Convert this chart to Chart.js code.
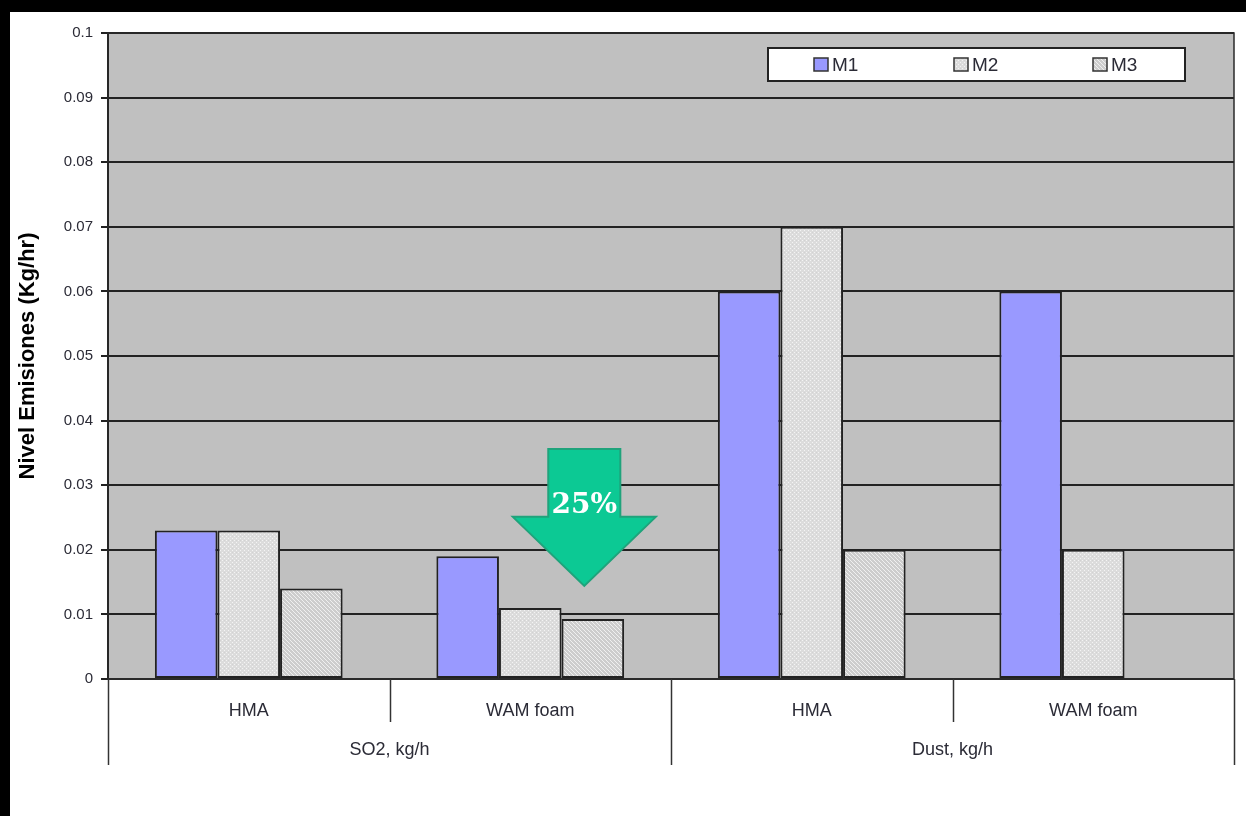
<!DOCTYPE html>
<html>
<head>
<meta charset="utf-8">
<script src="https://cdn.jsdelivr.net/npm/chart.js@4/dist/chart.umd.min.js"></script>
<style>
  html, body { margin: 0; padding: 0; background: #fff; }
  #frame {
    width: 1236px; height: 804px;
    border-top: 12px solid #000; border-left: 10px solid #000;
    background: #fff;
  }
  #chart { display: block; }
</style>
</head>
<body>
<div id="frame"><canvas id="chart" width="1236" height="804"></canvas></div>
<script>
// Emission levels per paving mix, measured in three campaigns
const categories = ['HMA', 'WAM foam', 'HMA', 'WAM foam'];
const groupLabels = ['SO2, kg/h', 'Dust, kg/h'];
const seriesNames = ['M1', 'M2', 'M3'];
const m1Values = [0.023, 0.019, 0.06, 0.06];
const m2Values = [0.023, 0.011, 0.07, 0.02];
const m3Values = [0.014, 0.0093, 0.02, null];
const yMax = 0.1;
const yStep = 0.01;
const reductionText = '25%';

// Fill textures for the grey series
function makePattern(kind) {
  const c = document.createElement('canvas');
  c.width = 4; c.height = 4;
  const g = c.getContext('2d');
  if (kind === 'dots') {
    g.fillStyle = '#dcdcdc'; g.fillRect(0, 0, 4, 4);
    g.fillStyle = '#f4f4f4';
    g.fillRect(0, 0, 1, 1); g.fillRect(2, 2, 1, 1);
    g.fillStyle = '#d2d2d2';
    g.fillRect(2, 0, 1, 1);
  } else {
    g.fillStyle = '#cdcdcd'; g.fillRect(0, 0, 4, 4);
    g.fillStyle = '#f0f0f0';
    for (let i = 0; i < 4; i++) g.fillRect(i, i, 1, 1);
  }
  return g.createPattern(c, 'repeat');
}
const m1Fill = '#9999ff';
const m2Fill = makePattern('dots');
const m3Fill = makePattern('hatch');
const seriesFills = [m1Fill, m2Fill, m3Fill];

const FONT = '"Liberation Sans", Arial, sans-serif';
const TEXT = '#2b2b36';

// Grey plot background, frame, two-level category axis, legend and arrow
const decorations = {
  id: 'decorations',
  beforeDraw(chart) {
    const { ctx, chartArea: a } = chart;
    ctx.save();
    ctx.fillStyle = '#c0c0c0';
    ctx.fillRect(a.left, a.top, a.right - a.left, a.bottom - a.top);
    ctx.restore();
  },
  afterDraw(chart) {
    const { ctx, chartArea: a } = chart;
    const xs = chart.scales.x, ys = chart.scales.y;
    const catW = (a.right - a.left) / categories.length;
    ctx.save();

    // plot frame
    ctx.strokeStyle = '#2a2a2a';
    ctx.lineWidth = 1.5;
    ctx.strokeRect(a.left, a.top, a.right - a.left, a.bottom - a.top);

    // base line
    ctx.lineWidth = 2;
    ctx.beginPath(); ctx.moveTo(a.left, a.bottom); ctx.lineTo(a.right, a.bottom); ctx.stroke();

    // category separators (short) and group separators (long)
    ctx.strokeStyle = '#333';
    ctx.lineWidth = 1.5;
    for (let i = 0; i <= categories.length; i++) {
      const x = Math.round(a.left + i * catW) + 0.5;
      const long = (i % 2 === 0);
      ctx.beginPath();
      ctx.moveTo(x, a.bottom);
      ctx.lineTo(x, a.bottom + (long ? 86 : 43));
      ctx.stroke();
    }

    // category and group labels
    ctx.fillStyle = TEXT;
    ctx.font = '18px ' + FONT;
    ctx.textAlign = 'center';
    ctx.textBaseline = 'middle';
    categories.forEach((c, i) => {
      ctx.fillText(c, xs.getPixelForValue(i), a.bottom + 32);
    });
    groupLabels.forEach((g, gi) => {
      ctx.fillText(g, a.left + (gi * 2 + 1) * catW, a.bottom + 71);
    });

    // legend box
    const lx = a.left + 660, ly = a.top + 15, lw = 417, lh = 33;
    ctx.fillStyle = '#fff';
    ctx.fillRect(lx, ly, lw, lh);
    ctx.strokeStyle = '#222';
    ctx.lineWidth = 2;
    ctx.strokeRect(lx, ly, lw, lh);
    const itemX = [46, 186, 325];
    ctx.font = '19px ' + FONT;
    ctx.textAlign = 'left';
    seriesNames.forEach((n, i) => {
      const sx = lx + itemX[i], sy = ly + 10;
      ctx.fillStyle = seriesFills[i];
      ctx.fillRect(sx, sy, 14, 13);
      ctx.strokeStyle = '#333';
      ctx.lineWidth = 1.5;
      ctx.strokeRect(sx, sy, 14, 13);
      ctx.fillStyle = TEXT;
      ctx.fillText(n, sx + 18, ly + lh / 2 + 1);
    });

    // reduction arrow over the WAM foam SO2 bars
    const cx = xs.getPixelForValue(1) + 0.192 * catW;
    const shaftHalf = 0.128 * catW, headHalf = 0.254 * catW;
    const yTop = ys.getPixelForValue(0.0356);
    const yNeck = ys.getPixelForValue(0.0251);
    const yTip = ys.getPixelForValue(0.0144);
    ctx.beginPath();
    ctx.moveTo(cx - shaftHalf, yTop);
    ctx.lineTo(cx + shaftHalf, yTop);
    ctx.lineTo(cx + shaftHalf, yNeck);
    ctx.lineTo(cx + headHalf, yNeck);
    ctx.lineTo(cx, yTip);
    ctx.lineTo(cx - headHalf, yNeck);
    ctx.lineTo(cx - shaftHalf, yNeck);
    ctx.closePath();
    ctx.fillStyle = '#0cc994';
    ctx.fill();
    ctx.strokeStyle = '#1fa37b';
    ctx.lineWidth = 2;
    ctx.stroke();
    ctx.fillStyle = '#fff';
    ctx.font = 'bold 28px "DejaVu Serif", "Liberation Serif", serif';
    ctx.textAlign = 'center';
    ctx.textBaseline = 'middle';
    ctx.fillText(reductionText, cx, ys.getPixelForValue(0.0268));

    ctx.restore();
  }
};

new Chart(document.getElementById('chart'), {
  type: 'bar',
  data: {
    labels: categories,
    datasets: [
      { label: seriesNames[0], data: m1Values, backgroundColor: m1Fill },
      { label: seriesNames[1], data: m2Values, backgroundColor: m2Fill },
      { label: seriesNames[2], data: m3Values, backgroundColor: m3Fill }
    ].map(d => Object.assign(d, {
      borderColor: '#222', borderWidth: 2, borderSkipped: false,
      categoryPercentage: 0.667, barPercentage: 1.0
    }))
  },
  options: {
    responsive: false,
    animation: false,
    devicePixelRatio: 1,
    layout: { padding: { left: 0, top: 21, right: 12, bottom: 0 } },
    plugins: { legend: { display: false }, tooltip: { enabled: false } },
    scales: {
      x: {
        grid: { display: false },
        border: { display: false },
        ticks: { display: false },
        afterFit(s) { s.height = 137; }
      },
      y: {
        min: 0, max: yMax,
        ticks: {
          stepSize: yStep,
          color: TEXT,
          font: { family: FONT, size: 15 },
          padding: 8,
          callback: v => Number(v.toFixed(2)).toString()
        },
        grid: { color: '#222', lineWidth: 2, tickLength: 7, drawTicks: true },
        border: { color: '#222', width: 2 },
        title: {
          display: true,
          text: 'Nivel Emisiones (Kg/hr)',
          color: '#000',
          font: { family: FONT, size: 22, weight: 'bold' },
          padding: { top: 5, bottom: 0 }
        },
        afterFit(s) { s.width = 98; }
      }
    }
  },
  plugins: [decorations]
});
</script>
</body>
</html>
